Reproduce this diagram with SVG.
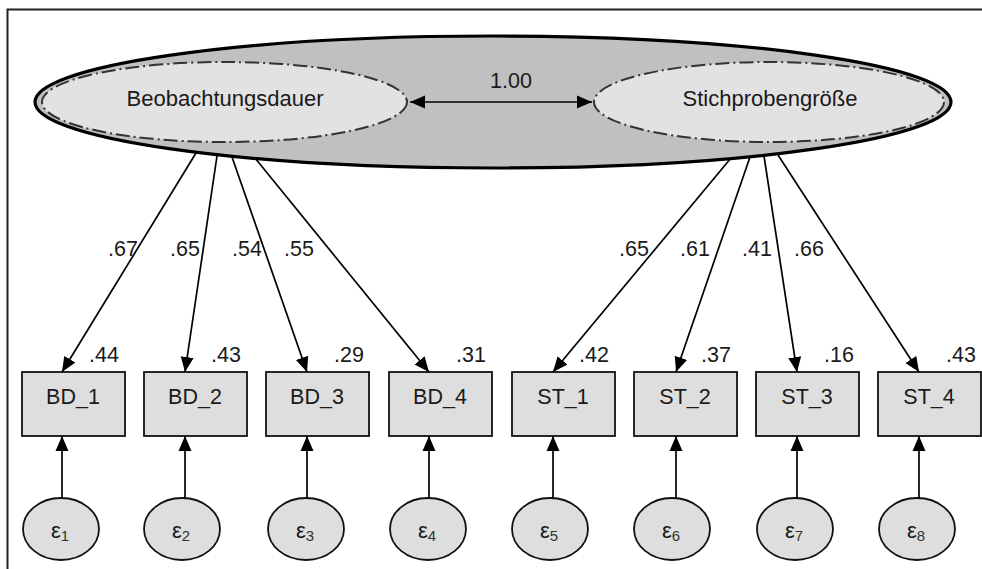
<svg xmlns="http://www.w3.org/2000/svg" width="982" height="569" viewBox="0 0 982 569">
<defs>
<style>
text{font-family:"Liberation Sans",Arial,sans-serif;fill:#1a1a1a;}
.lbl{font-size:21.5px;}
.lat{font-size:22px;text-anchor:middle;}
.box rect{fill:#dedede;stroke:#111;stroke-width:1.8;}
.box text{font-size:21.5px;text-anchor:middle;}
.err ellipse{fill:#dedede;stroke:#111;stroke-width:1.8;}
.err text{font-size:22px;text-anchor:middle;}
.err tspan.s{font-size:15px;fill:#333;}
.con line{stroke:#000;stroke-width:1.7;}
.inner{fill:#e2e2e2;stroke:#333;stroke-width:2;stroke-dasharray:14,4,2,4;}
</style>
<marker id="ah" markerUnits="userSpaceOnUse" markerWidth="16" markerHeight="16" viewBox="0 0 16 16" refX="15" refY="8" orient="auto-start-reverse">
<path d="M0,1.5 L15,8 L0,14.5 Z" fill="#000"/>
</marker>
</defs>
<path d="M7.5,569 V9.5 H982" fill="none" stroke="#222" stroke-width="2"/>

<g id="outer">
<ellipse cx="493" cy="102" rx="458" ry="66" fill="#c0c0c0" stroke="#000" stroke-width="3.2"/>
</g>
<g id="beobachtungsdauer">
<ellipse class="inner" cx="224.5" cy="102" rx="182.5" ry="40"/>
<text class="lat" x="225" y="106">Beobachtungsdauer</text>
</g>
<g id="stichprobengroesse">
<ellipse class="inner" cx="769" cy="102" rx="175" ry="40"/>
<text class="lat" x="770" y="106">Stichprobengröße</text>
</g>

<g id="BD_1" class="box"><rect x="22" y="372" width="103" height="64"/><text x="73" y="404">BD_1</text></g>
<g id="BD_2" class="box"><rect x="144" y="372" width="103" height="64"/><text x="195" y="404">BD_2</text></g>
<g id="BD_3" class="box"><rect x="266" y="372" width="103" height="64"/><text x="317" y="404">BD_3</text></g>
<g id="BD_4" class="box"><rect x="389" y="372" width="103" height="64"/><text x="440" y="404">BD_4</text></g>
<g id="ST_1" class="box"><rect x="512" y="372" width="103" height="64"/><text x="563" y="404">ST_1</text></g>
<g id="ST_2" class="box"><rect x="634" y="372" width="103" height="64"/><text x="685" y="404">ST_2</text></g>
<g id="ST_3" class="box"><rect x="756" y="372" width="103" height="64"/><text x="807" y="404">ST_3</text></g>
<g id="ST_4" class="box"><rect x="878" y="372" width="103" height="64"/><text x="929" y="404">ST_4</text></g>

<g id="e1" class="err"><ellipse cx="61" cy="529" rx="38" ry="31"/><text x="60" y="538">ε<tspan class="s" dy="3">1</tspan></text></g>
<g id="e2" class="err"><ellipse cx="182" cy="529" rx="38" ry="31"/><text x="181" y="538">ε<tspan class="s" dy="3">2</tspan></text></g>
<g id="e3" class="err"><ellipse cx="306" cy="529" rx="38" ry="31"/><text x="305" y="538">ε<tspan class="s" dy="3">3</tspan></text></g>
<g id="e4" class="err"><ellipse cx="428" cy="529" rx="38" ry="31"/><text x="427" y="538">ε<tspan class="s" dy="3">4</tspan></text></g>
<g id="e5" class="err"><ellipse cx="550" cy="529" rx="38" ry="31"/><text x="549" y="538">ε<tspan class="s" dy="3">5</tspan></text></g>
<g id="e6" class="err"><ellipse cx="672" cy="529" rx="38" ry="31"/><text x="671" y="538">ε<tspan class="s" dy="3">6</tspan></text></g>
<g id="e7" class="err"><ellipse cx="795" cy="529" rx="38" ry="31"/><text x="794" y="538">ε<tspan class="s" dy="3">7</tspan></text></g>
<g id="e8" class="err"><ellipse cx="917" cy="529" rx="38" ry="31"/><text x="916" y="538">ε<tspan class="s" dy="3">8</tspan></text></g>

<g id="connectors" class="con">
<line x1="410" y1="102" x2="592" y2="102" marker-start="url(#ah)" marker-end="url(#ah)"/>
<line x1="196" y1="153" x2="62" y2="372" marker-end="url(#ah)"/>
<line x1="217" y1="156" x2="185" y2="372" marker-end="url(#ah)"/>
<line x1="232" y1="157" x2="307" y2="372" marker-end="url(#ah)"/>
<line x1="255" y1="158" x2="429" y2="372" marker-end="url(#ah)"/>
<line x1="731" y1="158" x2="553" y2="372" marker-end="url(#ah)"/>
<line x1="750" y1="157" x2="676" y2="372" marker-end="url(#ah)"/>
<line x1="764" y1="156" x2="797" y2="372" marker-end="url(#ah)"/>
<line x1="778" y1="155" x2="919" y2="372" marker-end="url(#ah)"/>
<line x1="62" y1="498" x2="62" y2="436" marker-end="url(#ah)"/>
<line x1="185" y1="498" x2="185" y2="436" marker-end="url(#ah)"/>
<line x1="307" y1="498" x2="307" y2="436" marker-end="url(#ah)"/>
<line x1="429" y1="498" x2="429" y2="436" marker-end="url(#ah)"/>
<line x1="553" y1="498" x2="553" y2="436" marker-end="url(#ah)"/>
<line x1="676" y1="498" x2="676" y2="436" marker-end="url(#ah)"/>
<line x1="797" y1="498" x2="797" y2="436" marker-end="url(#ah)"/>
<line x1="919" y1="498" x2="919" y2="436" marker-end="url(#ah)"/>
</g>

<g id="labels" class="lbl">
<text x="511" y="88" text-anchor="middle">1.00</text>
<text x="108" y="256">.67</text>
<text x="170" y="256">.65</text>
<text x="232" y="256">.54</text>
<text x="284" y="256">.55</text>
<text x="619" y="256">.65</text>
<text x="680" y="256">.61</text>
<text x="742" y="256">.41</text>
<text x="794" y="256">.66</text>
<text x="89" y="362">.44</text>
<text x="211" y="362">.43</text>
<text x="334" y="362">.29</text>
<text x="456" y="362">.31</text>
<text x="579" y="362">.42</text>
<text x="701" y="362">.37</text>
<text x="824" y="362">.16</text>
<text x="946" y="362">.43</text>
</g>
</svg>
